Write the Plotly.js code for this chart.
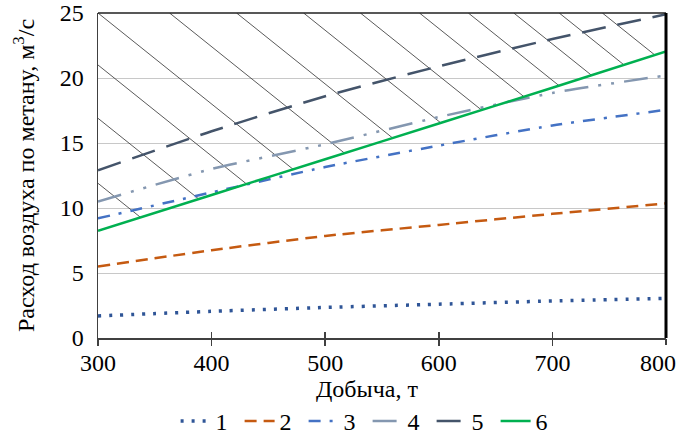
<!DOCTYPE html>
<html><head><meta charset="utf-8">
<script src="https://cdn.plot.ly/plotly-3.0.1.min.js"></script>
<style>html,body{margin:0;padding:0;background:#fff}#chart{width:677px;height:435px}</style>
</head><body><div id="chart"></div>
<script>
// ---- data ----
const production = [300, 400, 500, 600, 700, 800];           // Добыча, т
const series1 = [1.7, 2.05, 2.35, 2.6, 2.85, 3.05];
const series2 = [5.5, 6.75, 7.85, 8.7, 9.55, 10.35];
const series3 = [9.2, 11.2, 13.15, 14.8, 16.35, 17.55];
const series4 = [10.5, 13.0, 14.9, 17.0, 18.85, 20.2];
const series5 = [12.9, 15.9, 18.6, 20.9, 23.0, 24.9];
const series6 = [8.25, 11.0, 13.75, 16.5, 19.25, 22.05];
const seriesNames = ['1', '2', '3', '4', '5', '6'];
const xTicks = [300, 400, 500, 600, 700, 800];
const yTicks = [0, 5, 10, 15, 20, 25];
const xTitle = 'Добыча, т';
const yTitle = 'Расход воздуха по метану, м<sup>3</sup>/с';
// hatching above line 6: starting points on the top edge (x at y=25) and on the left edge (y at x=300)
const hatchStartX = [300, 363, 422, 481, 531, 583, 626, 666, 706, 744];
const hatchStartY = [21.0, 16.9, 11.9];
const hatchSlope = -0.07;   // data units of y per unit of x

const FONT = '"Liberation Serif", "Times New Roman", serif';

function green(x) {
  for (let i = 0; i < production.length - 1; i++) {
    const x0 = production[i], x1 = production[i + 1];
    if (x <= x1 || i === production.length - 2) {
      return series6[i] + (series6[i + 1] - series6[i]) * (x - x0) / (x1 - x0);
    }
  }
}
function hatchEnd(x0, y0) {
  let lo = x0, hi = 800;
  const f = x => y0 + hatchSlope * (x - x0) - green(x);
  if (f(hi) > 0) return [hi, y0 + hatchSlope * (hi - x0)];
  for (let k = 0; k < 60; k++) {
    const m = (lo + hi) / 2;
    if (f(m) > 0) lo = m; else hi = m;
  }
  return [lo, y0 + hatchSlope * (lo - x0)];
}

const traces = [];
const hatchStarts = hatchStartY.map(y => [300, y]).concat(hatchStartX.map(x => [x, 25]));
hatchStarts.forEach(([x0, y0]) => {
  const [x1, y1] = hatchEnd(x0, y0);
  traces.push({
    x: [x0, x1], y: [y0, y1], mode: 'lines', showlegend: false, hoverinfo: 'skip',
    line: {color: '#303030', width: 0.8}
  });
});

// empty helper traces so the overlaid tick axes are drawn
['x2', 'x3'].forEach(ax => traces.push({
  x: [xTicks[0]], y: [null], xaxis: ax, yaxis: 'y', mode: 'lines',
  showlegend: false, hoverinfo: 'skip'
}));

const styles = [
  {color: '#2F5597', width: 3.5, dash: '3px,8px'},
  {color: '#C55A11', width: 2.5, dash: '12px,7px'},
  {color: '#4472C4', width: 2.5, dash: '12px,9px,3px,9px'},
  {color: '#8497B0', width: 2.5, dash: '24px,10px,3px,10px,3px,10px'},
  {color: '#44546A', width: 2.5, dash: '24px,12px'},
  {color: '#00B050', width: 2.5, dash: 'solid'}
];
const allSeries = [series1, series2, series3, series4, series5, series6];
allSeries.forEach((s, i) => {
  traces.push({
    x: production, y: s, name: seriesNames[i], mode: 'lines',
    line: Object.assign({shape: 'spline', smoothing: 0.6}, styles[i])
  });
});

const tickCommon = {
  range: [300, 800], showgrid: false, zeroline: false, tickwidth: 1.5, tickcolor: '#404040',
  tickfont: {family: FONT, size: 24}, ticklen: 6, automargin: false, fixedrange: true
};

const layout = {
  width: 677, height: 435,
  margin: {l: 98, r: 11, t: 13, b: 97},
  paper_bgcolor: '#fff', plot_bgcolor: '#fff',
  font: {family: FONT, size: 24, color: '#000'},
  showlegend: true,
  legend: {
    orientation: 'h', xref: 'container', yref: 'container',
    x: 0.543, xanchor: 'center', y: 0.031, yanchor: 'middle',
    font: {family: FONT, size: 24, color: '#000'}, traceorder: 'normal',
    bgcolor: 'rgba(0,0,0,0)', entrywidth: 19, entrywidthmode: 'pixels'
  },
  xaxis: Object.assign({}, tickCommon, {
    tickvals: xTicks.slice(0, -1), ticktext: xTicks.slice(0, -1).map(String),
    showline: true, linecolor: '#404040', linewidth: 1.5,
    ticks: 'outside', ticklabelstandoff: -3
  }),
  xaxis2: Object.assign({}, tickCommon, {
    overlaying: 'x', anchor: 'y', side: 'bottom',
    tickvals: xTicks.slice(-1), ticktext: xTicks.slice(-1).map(String),
    showline: false, ticks: 'outside', ticklabelstandoff: -3, ticklabelshift: -8
  }),
  xaxis3: Object.assign({}, tickCommon, {
    overlaying: 'x', anchor: 'y', side: 'bottom', tickvals: xTicks,
    showline: false, showticklabels: false, ticks: 'inside'
  }),
  yaxis: {
    range: [0, 25], tickvals: yTicks, ticktext: yTicks.map(String),
    showgrid: true, gridcolor: '#c8c8c8', gridwidth: 1,
    zeroline: false, showline: true, linecolor: '#404040', linewidth: 1.5,
    ticks: '', ticklabelstandoff: 8,
    tickfont: {family: FONT, size: 24},
    title: {text: yTitle, font: {family: FONT, size: 24}, standoff: 18},
    automargin: false, fixedrange: true
  },
  annotations: [
    {text: xTitle, xref: 'paper', yref: 'paper', x: 0.4736, y: -0.157,
     xanchor: 'center', yanchor: 'middle', showarrow: false,
     font: {family: FONT, size: 24, color: '#000'}}
  ],
  shapes: [
    {type: 'line', xref: 'paper', yref: 'paper', x0: 0, x1: 1, y0: 1, y1: 1, line: {color: '#202020', width: 1.5}},
    {type: 'line', xref: 'paper', yref: 'paper', x0: 1, x1: 1, y0: 0, y1: 1, line: {color: '#000', width: 3}}
  ]
};

Plotly.newPlot('chart', traces, layout, {displayModeBar: false, staticPlot: true});
</script>
</body></html>
